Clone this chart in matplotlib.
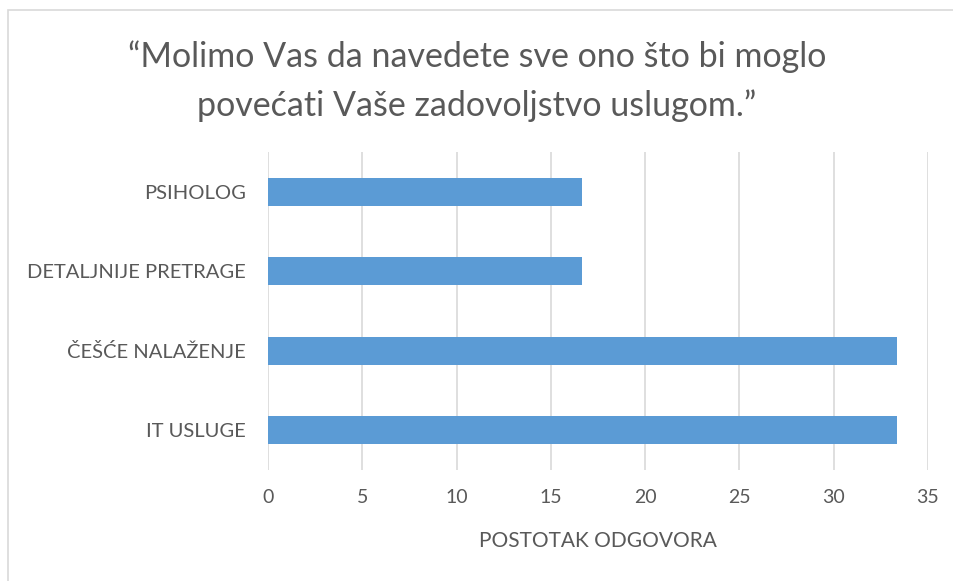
import matplotlib
matplotlib.use("Agg")
import matplotlib.pyplot as plt
from matplotlib.patches import Rectangle

categories = ["IT USLUGE", "ČEŠĆE NALAŽENJE", "DETALJNIJE PRETRAGE", "PSIHOLOG"]
values = [33.33, 33.33, 16.67, 16.67]
xticks = [0, 5, 10, 15, 20, 25, 30, 35]
title = "“Molimo Vas da navedete sve ono što bi moglo\npovećati Vaše zadovoljstvo uslugom.”"
xlabel = "POSTOTAK ODGOVORA"

plt.rcParams['font.family'] = ['Lato', 'DejaVu Sans']
W, H = 954, 581
fig = plt.figure(figsize=(W/100, H/100), dpi=100)
fig.patch.set_facecolor('white')

# figure border (chart area outline)
fig.patches.append(Rectangle((8/W, -0.05), 1.2, 1 - 10/H + 0.05, transform=fig.transFigure,
                             fill=False, edgecolor='#d9d9d9', linewidth=1.2))

ax = fig.add_axes([268/W, 1 - 470/H, (928-268)/W, (470-152)/H])
ypos = list(range(len(categories)))
ax.barh(ypos, values, height=0.35, color='#5b9bd5', zorder=3)
ax.set_ylim(-0.5, len(categories) - 0.5)
ax.set_xlim(0, 35)
ax.set_xticks(xticks)
ax.set_yticks(ypos)
ax.set_yticklabels(categories)
for s in ax.spines.values():
    s.set_visible(False)
ax.grid(axis='x', color='#d9d9d9', linewidth=1.2, zorder=0)
ax.tick_params(axis='both', length=0, colors='#595959')
ax.tick_params(axis='x', pad=14, labelsize=14)
ax.tick_params(axis='y', pad=16, labelsize=14.5)
ax.set_xlabel(xlabel, color='#595959', fontsize=15, labelpad=18)

fig.text(0.5, 1 - 81/H, title, ha='center', va='center', fontsize=24.5,
         color='#595959', linespacing=1.6)

fig.savefig("out.png", dpi=100, facecolor='white')
